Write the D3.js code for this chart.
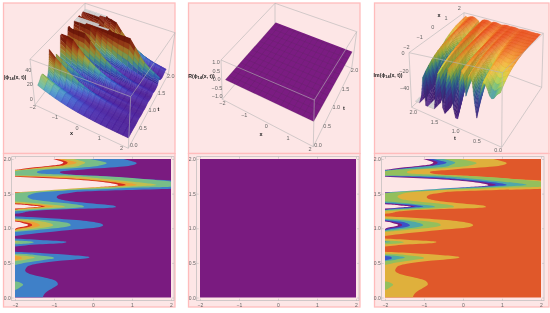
<!DOCTYPE html>
<html>
<head>
<meta charset="utf-8">
<script src="https://cdnjs.cloudflare.com/ajax/libs/d3/7.8.5/d3.min.js"></script>
<style>
	html,body{margin:0;padding:0;background:#fff;}
	svg{display:block;}
	text{font-family:"Liberation Sans",Arial,sans-serif;}
</style>
</head>
<body>
<div id="grafica"></div>
<script>
//Surface: |phi| at x=-2 for each t row, and how it falls along x
const xRows=[-2,-1.75,-1.5,-1.25,-1,-0.75,-0.5,-0.25,0,0.25,0.5,0.75,1,1.25,1.5,1.75,2];
const falloff=[1,.82,.68,.55,.44,.35,.28,.22,.17,.135,.105,.08,.06,.045,.035,.027,.02];
const tRows=[0,.05,.1,.15,.2,.25,.3,.35,.4,.45,.5,.55,.6,.65,.7,.75,.8,.85,.9,.95,1,1.05,1.1,1.15,1.2,1.25,1.3,1.35,1.4,1.45,1.5,1.55,1.6,1.65,1.7,1.75,1.8,1.85,1.9,1.95,2];
const peakHeight=[17.5,19,21,24,25,23,18,14,12.5,20,30,47,34,16,8,12,30,10,7,20,55,70,46,18,8,22,95,50,14,16,30,90,500,200,120,55,25,48,100,170,120];

//Contour edges [t, x]: everything left of the edge is above that level. x=-2.3 means the level is absent there
const NO=-2.3;
const edge10=[[2,.78],[1.97,.98],[1.94,1.12],[1.91,1.0],[1.89,.78],[1.85,-.25],[1.825,-.76],[1.81,-.85],[1.78,-.68],[1.755,.18],[1.716,1.21],[1.69,2],[1.625,3],[1.572,2],[1.553,.86],[1.534,-.15],[1.51,-.6],[1.486,-.85],[1.447,-.93],[1.40,-.71],[1.36,-.08],[1.322,.56],[1.308,.59],[1.288,.18],[1.274,-.68],[1.25,-1.53],[1.21,-2],[1.205,NO],[1.1875,NO],[1.168,-1.87],[1.144,-1.1],[1.11,-.25],[1.072,.18],[1.043,.26],[1.014,.14],[.976,-.59],[.928,-1.44],[.889,-2],[.87,NO],[.851,-2],[.832,-1.36],[.8125,-.76],[.803,-.68],[.788,-.76],[.769,-1.36],[.736,-2],[.71,NO],[.673,NO],[.659,-2],[.639,-1.27],[.615,-.59],[.591,-.14],[.582,-.09],[.5625,-.2],[.529,-.85],[.486,-1.44],[.4375,-1.70],[.39,-1.74],[.341,-1.62],[.293,-1.27],[.245,-.97],[.192,-.9],[.139,-1.02],[.072,-1.21],[0,-1.29]];
const edge20=[[2,-.08],[1.97,.18],[1.94,.35],[1.91,.2],[1.89,.01],[1.865,-.5],[1.84,-1.27],[1.81,-1.44],[1.79,-1.36],[1.77,-.5],[1.745,.52],[1.707,1.38],[1.673,2],[1.625,2.2],[1.6,2],[1.587,1.21],[1.572,.52],[1.558,-.16],[1.543,-.76],[1.524,-1.27],[1.495,-1.57],[1.457,-1.68],[1.418,-1.57],[1.394,-1.27],[1.36,-.68],[1.322,-.25],[1.308,-.23],[1.284,-.76],[1.264,-1.44],[1.245,-2],[1.226,NO],[1.154,NO],[1.13,-1.53],[1.10,-.93],[1.0625,-.59],[1.043,-.57],[1.014,-.76],[.976,-1.44],[.947,-2],[.928,NO],[.832,NO],[.822,-2],[.808,-1.58],[.798,-1.52],[.784,-1.62],[.769,-2],[.76,NO],[.639,NO],[.63,-1.87],[.61,-1.44],[.582,-1.02],[.5675,-1.0],[.543,-1.27],[.505,-1.70],[.471,-2],[.447,NO],[.245,NO],[.23,-1.96],[.183,-1.79],[.149,-1.87],[.11,-2],[.087,NO],[0,NO]];
const edge30=[[2,-.5],[1.97,-.3],[1.95,-.2],[1.91,-.33],[1.89,-.42],[1.865,-.93],[1.84,-1.79],[1.825,-2],[1.81,NO],[1.78,NO],[1.76,-2],[1.755,-.68],[1.72,.18],[1.673,1.03],[1.625,1.63],[1.60,.95],[1.577,.09],[1.553,-.68],[1.529,-1.44],[1.505,-2],[1.495,NO],[1.394,NO],[1.385,-2],[1.35,-1.27],[1.322,-.76],[1.308,-.72],[1.288,-1.19],[1.274,-1.62],[1.26,-2],[1.245,NO],[1.149,NO],[1.135,-2],[1.11,-1.44],[1.072,-1.10],[1.043,-1.02],[1.014,-1.19],[.986,-1.62],[.96,-2],[.947,NO],[.822,NO],[.8125,-2],[.803,-1.86],[.793,-2],[.784,NO],[.625,NO],[.615,-2],[.591,-1.57],[.577,-1.49],[.558,-1.62],[.524,-2],[.51,NO],[0,NO]];
const edge40=[[2,-.76],[1.97,-.55],[1.95,-.42],[1.91,-.68],[1.88,-1.2],[1.86,-1.55],[1.845,-1.85],[1.835,-2],[1.825,NO],[1.76,NO],[1.755,-1.87],[1.745,-1.02],[1.707,0],[1.663,.78],[1.625,1.12],[1.60,.56],[1.577,-.33],[1.553,-1.1],[1.529,-1.79],[1.51,-2],[1.50,NO],[1.418,NO],[1.37,-2],[1.346,-1.44],[1.3125,-1.02],[1.293,-1.36],[1.274,-1.87],[1.264,-2],[1.255,NO],[1.135,NO],[1.12,-2],[1.096,-1.62],[1.0625,-1.40],[1.043,-1.36],[1.014,-1.49],[.986,-1.87],[.971,-2],[.96,NO],[.8125,NO],[.803,-1.97],[.798,NO],[.61,NO],[.60,-2],[.582,-1.83],[.5625,-1.83],[.538,-2],[.529,NO],[0,NO]];
const edge50=[[2,-.93],[1.97,-.72],[1.95,-.65],[1.91,-.76],[1.89,-1.1],[1.87,-1.45],[1.85,-1.8],[1.84,-2],[1.83,NO],[1.755,NO],[1.75,-1.96],[1.726,-.85],[1.69,.09],[1.65,.69],[1.625,.84],[1.606,.52],[1.587,-.25],[1.5625,-1.02],[1.534,-1.7],[1.514,-2],[1.505,NO],[1.385,NO],[1.36,-2],[1.341,-1.53],[1.3125,-1.23],[1.298,-1.49],[1.279,-1.91],[1.269,-2],[1.26,NO],[1.12,NO],[1.11,-2],[1.087,-1.74],[1.058,-1.57],[1.043,-1.56],[1.019,-1.66],[.995,-1.91],[.98,-2],[.971,NO],[0,NO]];
const edgeOver=[[2,-1.02],[1.97,-.85],[1.95,-.76],[1.92,-.85],[1.90,-1.15],[1.88,-1.5],[1.86,-1.8],[1.845,-2],[1.835,NO],[1.755,NO],[1.745,-2],[1.716,-.85],[1.673,.18],[1.635,.6],[1.62,.65],[1.591,.01],[1.567,-.68],[1.538,-1.44],[1.519,-2],[1.51,NO],[1.35,NO],[1.346,-2],[1.33,-1.62],[1.3125,-1.32],[1.303,-1.53],[1.284,-2],[1.274,NO],[1.106,NO],[1.096,-2],[1.072,-1.79],[1.048,-1.66],[1.029,-1.74],[1.005,-1.96],[.99,-2],[.98,NO],[0,NO]];
const edges=[edge10,edge20,edge30,edge40,edge50,edgeOver];

const xTicks=[-2,-1,0,1,2];
const tTicks=[0,.5,1,1.5,2];
const absTicks=[0,20,40];
const realTicks=[-1,-.5,0,.5,1];
const imTicks=[-40,-20,0];

//Colours
const fondo="#fde6e6",borde="#ffbcbc",gris="#b5b5b5",texto="#666";
const colorsAbs=["#7a1b80","#3f80c8","#78bd88","#c0bf50","#eca036","#d42a20",fondo];
const colorsIm=["#e0582a","#dfb03c","#94bf5c","#4fa8a8","#3a52c8","#7c1a80",fondo];
const rampAbs=d3.interpolateRgbBasis(["#4a1a90","#4a28b0","#3a60d8","#46b8c8","#a0c850","#e0a030","#b83018","#7a1808"]);
const rampIm=d3.interpolateRgbBasis(["#5a2a98","#3a5cc8","#40b0a8","#b4d840","#f4cc40","#f49a30","#e84a1c"]);

var svg=d3.select("#grafica").append("svg").attr("width",550).attr("height",313);
var raiz=svg.append("g").style("filter","blur(0.3px)");

//Pink frames behind each panel
[[3.5,175],[188.5,360],[374.5,549]].forEach(function(p){
	[[3,153.5],[153.5,307]].forEach(function(q){
		raiz.append("rect").attr("x",p[0]).attr("y",q[0]).attr("width",p[1]-p[0]).attr("height",q[1]-q[0])
			.attr("fill",fondo).attr("stroke",borde).attr("stroke-width",1.3);
	});
});

//Scales for 3D box: corners listed x-t-, x+t-, x+t+, x-t+ for low z then high z
function caja(corners,xDom,tDom,zDom){
	var su=d3.scaleLinear().domain(xDom).range([0,1]);
	var sv=d3.scaleLinear().domain(tDom).range([0,1]);
	var sw=d3.scaleLinear().domain(zDom).range([0,1]);
	var proy=function(x,t,z){
		var u=su(x),v=sv(t),w=sw(z);
		var pt=function(k){
			var c=corners[k];
			var a=[c[0][0]*(1-u)+c[1][0]*u, c[0][1]*(1-u)+c[1][1]*u];
			var b=[c[3][0]*(1-u)+c[2][0]*u, c[3][1]*(1-u)+c[2][1]*u];
			return [a[0]*(1-v)+b[0]*v, a[1]*(1-v)+b[1]*v];
		};
		var lo=pt(0),hi=pt(1);
		return [lo[0]*(1-w)+hi[0]*w, lo[1]*(1-w)+hi[1]*w];
	};
	proy.x=xDom; proy.t=tDom; proy.z=zDom; proy.su=su; proy.sv=sv; proy.sw=sw;
	return proy;
}

function linea(g,a,b,w){
	g.append("line").attr("x1",a[0]).attr("y1",a[1]).attr("x2",b[0]).attr("y2",b[1])
		.attr("stroke",gris).attr("stroke-width",w||.6);
}

//back = [x index, t index] of the vertical edge behind the surface
function aristas(g,p,back){
	var X=p.x,T=p.t,Z=p.z;
	var verts=[[0,0],[1,0],[1,1],[0,1]];
	for(var i=0;i<4;i++){
		var a=verts[i],b=verts[(i+1)%4];
		var esFondo=(a[0]==back[0]&&a[1]==back[1])||(b[0]==back[0]&&b[1]==back[1]);
		if(esFondo){
			linea(g,p(X[a[0]],T[a[1]],Z[0]),p(X[b[0]],T[b[1]],Z[0]));
		}
	}
	linea(g,p(X[back[0]],T[back[1]],Z[0]),p(X[back[0]],T[back[1]],Z[1]));
}
function aristasFrente(g,p,back){
	var X=p.x,T=p.t,Z=p.z;
	var verts=[[0,0],[1,0],[1,1],[0,1]];
	for(var i=0;i<4;i++){
		var a=verts[i],b=verts[(i+1)%4];
		linea(g,p(X[a[0]],T[a[1]],Z[1]),p(X[b[0]],T[b[1]],Z[1]));
		var esFondo=(a[0]==back[0]&&a[1]==back[1])||(b[0]==back[0]&&b[1]==back[1]);
		if(!esFondo){
			linea(g,p(X[a[0]],T[a[1]],Z[0]),p(X[b[0]],T[b[1]],Z[0]));
		}
		if(!(a[0]==back[0]&&a[1]==back[1])){
			linea(g,p(X[a[0]],T[a[1]],Z[0]),p(X[a[0]],T[a[1]],Z[1]));
		}
	}
}

var camino=d3.line();

//Quads far to near, each split in strips so steep walls show the height colours
function superficie(g,p,zAt,colorAt,xDesc,luz,tiras,malla,tope,base){
	var xi=d3.range(xRows.length-1);
	if(xDesc) xi.reverse();
	for(var i=tRows.length-2;i>=0;i--){
		xi.forEach(function(j){
			var z00=zAt(j,i),z10=zAt(j+1,i),z11=zAt(j+1,i+1),z01=zAt(j,i+1);
			var du=((z10+z11-z00-z01)/2)*(p.sw(1)-p.sw(0))/(p.su(xRows[j+1])-p.su(xRows[j]));
			var dv=((z01+z11-z00-z10)/2)*(p.sw(1)-p.sw(0))/(p.sv(tRows[i+1])-p.sv(tRows[i]));
			var n=Math.sqrt(du*du*.16+dv*dv*.16+1);
			var d=(-du*.4*luz[0]-dv*.4*luz[1]+luz[2])/n;
			var k=Math.min(1,luz[3]+luz[4]*Math.max(0,d));
			var plano=tope!==undefined&&z00==tope&&z10==tope&&z11==tope&&z01==tope;
			for(var s=tiras-1;s>=0;s--){
				var f0=s/tiras,f1=(s+1)/tiras;
				var zA=z00+(z01-z00)*f0,zB=z10+(z11-z10)*f0,zC=z10+(z11-z10)*f1,zD=z00+(z01-z00)*f1;
				var tA=tRows[i]+(tRows[i+1]-tRows[i])*f0,tD=tRows[i]+(tRows[i+1]-tRows[i])*f1;
				var c=plano?d3.rgb(base):d3.rgb(colorAt((zA+zB+zC+zD)/4));
				var kk=plano?1:k;
				var fill=d3.rgb(c.r*kk,c.g*kk,c.b*kk).formatHex();
				g.append("path")
					.attr("d",camino([p(xRows[j],tA,zA),p(xRows[j+1],tA,zB),p(xRows[j+1],tD,zC),p(xRows[j],tD,zD)])+"Z")
					.attr("fill",fill).attr("stroke",fill).attr("stroke-width",.25);
			}
			var a=p(xRows[j],tRows[i],z00),b=p(xRows[j+1],tRows[i],z10),f=p(xRows[j],tRows[i+1],z01);
			g.append("line").attr("x1",a[0]).attr("y1",a[1]).attr("x2",f[0]).attr("y2",f[1]).attr("stroke",malla).attr("stroke-width",.3);
			if(i%3==0){
				g.append("line").attr("x1",a[0]).attr("y1",a[1]).attr("x2",b[0]).attr("y2",b[1]).attr("stroke",malla).attr("stroke-width",.3);
			}
		});
	}
}

function marca(g,pos,txt,dx,dy,size,weight){
	g.append("text").attr("x",pos[0]+dx).attr("y",pos[1]+dy+1.8)
		.attr("text-anchor","middle").attr("font-size",size||5.5).attr("font-weight",weight||"normal")
		.attr("fill",weight?"#222":texto).text(txt);
}

function etiqueta(g,x,y,antes,despues){
	var tx=g.append("text").attr("x",x).attr("y",y).attr("text-anchor","middle")
		.attr("font-size",5.2).attr("font-weight","bold").attr("fill","#222");
	tx.append("tspan").text(antes);
	tx.append("tspan").attr("font-size",4).attr("dy",1).text("14");
	tx.append("tspan").attr("dy",-1).text(despues);
}

function fmtT(v){return d3.format(".1f")(v);}
function fmtMenos(v){return String(v).replace("-","\u2212");}

//Panel 1, |phi|
(function(){
	var p=caja([
		[[35,105],[128.3,148.3],[168.3,74],[85,38.3]],
		[[30,59.3],[130.7,96.7],[175,32.7],[85,3.3]]
	],[-2.12,2.08],[-.08,2.08],[-8,55]);
	var g=raiz.append("g");
	aristas(g,p,[0,1]);
	var z=function(j,i){return Math.min(50,peakHeight[i]*falloff[j]);};
	superficie(g,p,z,function(v){return rampAbs(Math.pow(v/50,.7));},false,[-.1,-.15,.9,.68,.4],5,"rgba(20,0,30,.2)",50,"#d4d4d4");
	aristasFrente(g,p,[0,1]);
	xTicks.forEach(function(v){marca(g,p(v,-.08,-8),fmtMenos(v),-5,1);});
	tTicks.forEach(function(v){marca(g,p(2.08,v,-8),fmtT(v),4,-.5);});
	absTicks.forEach(function(v){marca(g,p(-2.12,-.08,v),v,-3,0);});
	marca(g,[71.5,133],"x",0,0,5.5,"bold");
	marca(g,[158.5,109],"t",0,0,5.5,"bold");
	etiqueta(g,15,78.5,"|\u03d5","(x, t)|");
})();

//Panel 2, real part is flat zero so one plane with its mesh on top
(function(){
	var p=caja([
		[[222.3,99.3],[313.3,146.7],[351.7,68.3],[275,36.7]],
		[[221,60],[314.3,100],[356.7,31.7],[275,3.3]]
	],[-2.12,2.04],[-.04,2.06],[-1.1,1.1]);
	var g=raiz.append("g");
	aristas(g,p,[0,1]);
	g.append("path").attr("d",camino([p(-2,0,0),p(2,0,0),p(2,2,0),p(-2,2,0)])+"Z").attr("fill","#7b1c82");
	xRows.forEach(function(x){
		var a=p(x,0,0),b=p(x,2,0);
		g.append("line").attr("x1",a[0]).attr("y1",a[1]).attr("x2",b[0]).attr("y2",b[1])
			.attr("stroke","rgba(50,50,50,.35)").attr("stroke-width",.35);
	});
	tRows.filter(function(t,i){return i%3==0;}).forEach(function(t){
		var a=p(-2,t,0),b=p(2,t,0);
		g.append("line").attr("x1",a[0]).attr("y1",a[1]).attr("x2",b[0]).attr("y2",b[1])
			.attr("stroke","rgba(50,50,50,.35)").attr("stroke-width",.35);
	});
	aristasFrente(g,p,[0,1]);
	xTicks.forEach(function(v){marca(g,p(v,-.04,-1.1),fmtMenos(v),-2.5,3);});
	tTicks.forEach(function(v){marca(g,p(2.04,v,-1.1),fmtT(v),4,-.5);});
	realTicks.forEach(function(v){marca(g,p(-2.12,-.04,v),fmtMenos(fmtT(v)),-5,v==-1?-1:0);});
	marca(g,[261,134],"x",0,0,5.5,"bold");
	marca(g,[344,108.5],"t",0,0,5.5,"bold");
	etiqueta(g,201.5,77.5,"R(\u03d5","(x, t))");
})();

//Panel 3, imaginary part
(function(){
	var p=caja([
		[[501.7,147.3],[541.7,87.3],[463.3,58.3],[411.7,107.3]],
		[[502.3,72.7],[543.3,33.3],[464,12.7],[409,52.7]]
	],[-2.1,2.05],[-.06,2.06],[-62,1]);
	var g=raiz.append("g");
	aristas(g,p,[1,1]);
	var z=function(j,i){return Math.max(-55,-peakHeight[i]*falloff[j]);};
	superficie(g,p,z,function(v){return rampIm(Math.pow((v+55)/55,2.2));},true,[-.1,.12,.9,.72,.35],5,"rgba(60,20,0,.2)",-55,"#d4d4d4");
	aristasFrente(g,p,[1,1]);
	xTicks.forEach(function(v){marca(g,p(v,2.06,1),fmtMenos(v),-4,-5);});
	tTicks.forEach(function(v){marca(g,p(-2.1,v,-62),fmtT(v),-1,4);});
	imTicks.forEach(function(v){marca(g,p(-2.1,2.06,v),fmtMenos(v),-6,0);});
	marca(g,[439,15],"x",0,0,5.5,"bold");
	marca(g,[455,138.5],"t",0,0,5.5,"bold");
	etiqueta(g,388,77,"Im(\u03d5","(x, t))");
})();

//Bottom contour panels
var escalaT=d3.scaleLinear().domain([0,2]).range([297.5,159]);
function panelContorno(x0,marco,colores){
	var escalaX=d3.scaleLinear().domain([-2,2]).range([x0,x0+156]);
	var g=raiz.append("g");
	var id="clip"+x0;
	g.append("clipPath").attr("id",id).append("rect").attr("x",x0).attr("y",159)
		.attr("width",156).attr("height",138.5);
	g.append("rect").attr("x",x0).attr("y",159).attr("width",156).attr("height",138.5).attr("fill",colores[0]);
	var cuerpo=g.append("g").attr("clip-path","url(#"+id+")");
	var area=d3.area().curve(d3.curveMonotoneY)
		.y(function(d){return escalaT(d[0]);})
		.x0(escalaX(-2))
		.x1(function(d){return escalaX(d[1]);});
	if(colores.length>1){
		edges.forEach(function(e,i){
			cuerpo.append("path").attr("d",area(e)).attr("fill",colores[i+1]);
		});
	}
	//frame with ticks on all four sides
	var yTop=156.7,yBot=300.7;
	g.append("rect").attr("x",marco[0]).attr("y",yTop).attr("width",marco[1]-marco[0]).attr("height",yBot-yTop)
		.attr("fill","none").attr("stroke",gris).attr("stroke-width",.6);
	g.append("g").attr("transform","translate(0,"+yBot+")")
		.call(d3.axisBottom(escalaX).tickValues(xTicks).tickSize(-2).tickPadding(2.5).tickFormat(fmtMenos));
	g.append("g").attr("transform","translate("+marco[0]+",0)")
		.call(d3.axisLeft(escalaT).tickValues(tTicks).tickSize(-2).tickPadding(1).tickFormat(fmtT));
	g.append("g").attr("transform","translate(0,"+yTop+")")
		.call(d3.axisTop(escalaX).tickValues(xTicks).tickSize(-2).tickFormat(""));
	g.append("g").attr("transform","translate("+marco[1]+",0)")
		.call(d3.axisRight(escalaT).tickValues(tTicks).tickSize(-2).tickFormat(""));
	g.selectAll(".domain").remove();
	g.selectAll(".tick line").attr("stroke",gris).attr("stroke-width",.5);
	g.selectAll(".tick text").attr("font-size",5).attr("font-family","Liberation Sans").attr("fill",texto);
}
panelContorno(15,[11.7,174],colorsAbs);
panelContorno(200,[196.7,359],[colorsAbs[0]]);
panelContorno(385,[381.7,544],colorsIm);
</script>
</body>
</html>
